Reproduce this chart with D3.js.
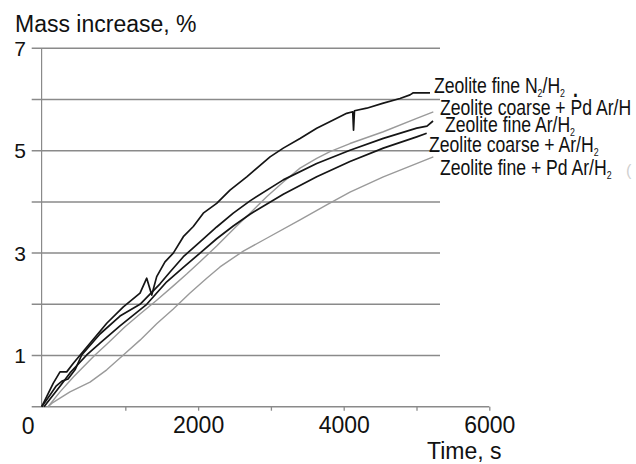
<!DOCTYPE html>
<html><head><meta charset="utf-8">
<script src="https://cdn.jsdelivr.net/npm/d3@7"></script>
<style>body{margin:0;background:#fff} svg{display:block;font-family:"Liberation Sans",Arial,sans-serif}</style>
</head><body><svg id="c" width="636" height="464"></svg>
<script>
// ---- data ----
const yGridValues = [1, 2, 3, 4, 5, 6, 7];
const yLabelValues = [1, 3, 5, 7];
const xTickValues = [1000, 2000, 3000, 4000, 5000, 6000];
const xLabelValues = [2000, 4000, 6000];
const xZeroLabel = "0";
const yTitle = "Mass increase, %";
const xTitle = "Time, s";

const seriesNames = ["Zeolite fine N_2/H_2", "Zeolite coarse + Pd Ar/H", "Zeolite fine Ar/H_2", "Zeolite coarse + Ar/H_2", "Zeolite fine + Pd Ar/H_2"];

const fineN2_t = [-148, 11, 103, 195, 286, 515, 745, 973, 1202, 1294, 1363, 1431, 1545, 1659, 1797, 1934, 2071, 2255, 2438, 2668, 2988, 3170, 3400, 3629, 3857, 4041, 4124, 4135, 4148, 4316, 4544, 4773, 4911, 4956, 5185];
const fineN2_m = [0, 0.46, 0.68, 0.68, 0.85, 1.24, 1.63, 1.95, 2.22, 2.51, 2.18, 2.54, 2.83, 3.00, 3.32, 3.52, 3.78, 3.97, 4.23, 4.49, 4.88, 5.05, 5.24, 5.44, 5.60, 5.73, 5.76, 5.40, 5.78, 5.83, 5.93, 6.02, 6.09, 6.13, 6.13];

const coarsePd_t = [-62, 103, 286, 584, 745, 996, 1202, 1431, 1659, 1843, 2026, 2255, 2530, 2713, 2942, 3170, 3400, 3629, 3812, 4086, 4544, 5003, 5231];
const coarsePd_m = [0, 0.29, 0.58, 1.01, 1.22, 1.56, 1.81, 2.08, 2.36, 2.59, 2.83, 3.14, 3.53, 3.78, 4.10, 4.39, 4.66, 4.85, 4.98, 5.14, 5.37, 5.63, 5.76];

const fineAr_t = [-148, -34, 48, 130, 213, 309, 401, 652, 927, 1202, 1477, 1614, 1797, 2026, 2255, 2483, 2713, 3170, 3629, 4086, 4544, 5003, 5144, 5227];
const fineAr_m = [0, 0.23, 0.40, 0.50, 0.54, 0.72, 1.01, 1.42, 1.77, 2.00, 2.40, 2.63, 2.93, 3.22, 3.51, 3.78, 4.02, 4.43, 4.75, 5.01, 5.24, 5.44, 5.48, 5.58];

const coarseAr_t = [-117, -34, 103, 240, 470, 652, 927, 1294, 1569, 1797, 2026, 2255, 2483, 2713, 3170, 3629, 4086, 4544, 5003, 5140];
const coarseAr_m = [0, 0.15, 0.40, 0.66, 1.01, 1.24, 1.58, 2.00, 2.44, 2.72, 3.00, 3.28, 3.53, 3.76, 4.15, 4.49, 4.79, 5.05, 5.27, 5.34];

const finePd_t = [-62, -7, 240, 515, 745, 973, 1202, 1431, 1659, 1889, 2118, 2301, 2621, 2942, 3400, 3766, 4086, 4544, 5231];
const finePd_m = [0, 0.07, 0.29, 0.48, 0.72, 1.01, 1.30, 1.62, 1.91, 2.22, 2.51, 2.73, 3.04, 3.29, 3.65, 3.94, 4.19, 4.49, 4.88];

// ---- layout ----
const svg = d3.select("#c");
const x = d3.scaleLinear().domain([-150, 6000]).range([41.6, 489.3]);
const y = d3.scaleLinear().domain([0, 7]).range([406.7, 48.3]);
const gridX0 = 31.7, gridX1 = 440;
const gridColor = "#8a8a8a";

// gridlines
svg.append("g").selectAll("line").data(yGridValues).join("line")
  .attr("x1", gridX0).attr("x2", gridX1)
  .attr("y1", d => y(d)).attr("y2", d => y(d))
  .attr("stroke", gridColor).attr("stroke-width", 1.5);

// y axis line
svg.append("line").attr("x1", x.range()[0]).attr("x2", x.range()[0])
  .attr("y1", y(7)).attr("y2", y(0)).attr("stroke", gridColor).attr("stroke-width", 1.2);

// y labels
svg.append("g").selectAll("text").data(yLabelValues).join("text")
  .attr("x", 26).attr("y", d => y(d)).attr("dy", "0.36em")
  .attr("text-anchor", "end").attr("font-size", 21).attr("fill", "#111")
  .text(d => d);

// x axis
svg.append("line").attr("x1", gridX0).attr("x2", x(6000))
  .attr("y1", y(0)).attr("y2", y(0)).attr("stroke", gridColor).attr("stroke-width", 1.5);
const xa = svg.append("g").attr("transform", `translate(0,${y(0)})`)
  .call(d3.axisBottom(x).tickValues(xTickValues).tickSize(4).tickSizeOuter(0).tickPadding(6)
    .tickFormat(d => xLabelValues.includes(d) ? d : ""));
xa.select(".domain").remove();
xa.selectAll(".tick line").attr("stroke", gridColor).attr("stroke-width", 1.3);
xa.selectAll(".tick text").attr("font-size", 23).attr("fill", "#111").attr("font-family", null);
svg.append("text").attr("x", x.range()[0] - 13.5).attr("y", y(0)).attr("dy", 27)
  .attr("text-anchor", "middle").attr("font-size", 23).attr("fill", "#111").text(xZeroLabel);

// titles
svg.append("text").attr("x", 15).attr("y", 32).attr("font-size", 23).attr("fill", "#111").text(yTitle);
svg.append("text").attr("x", 427).attr("y", 459).attr("font-size", 23).attr("fill", "#111").text(xTitle);

// series
const series = [
  {t: fineN2_t, m: fineN2_m, color: "#151515", w: 1.7},
  {t: coarsePd_t, m: coarsePd_m, color: "#9a9a9a", w: 1.4},
  {t: fineAr_t, m: fineAr_m, color: "#151515", w: 1.7},
  {t: coarseAr_t, m: coarseAr_m, color: "#151515", w: 1.7},
  {t: finePd_t, m: finePd_m, color: "#9a9a9a", w: 1.4}
];
const line = d3.line().x(d => x(d[0])).y(d => y(d[1]));
svg.append("g").selectAll("path").data(series).join("path")
  .attr("d", s => line(s.t.map((t, i) => [t, s.m[i]])))
  .attr("fill", "none").attr("stroke", s => s.color).attr("stroke-width", s => s.w)
  .attr("stroke-linejoin", "round");

// labels
const labelPos = [[434, 92.5], [440, 115], [445, 132], [429, 151.5], [440, 175]];
const labelScale = 0.8;
seriesNames.forEach((name, i) => {
  const t = svg.append("text")
    .attr("transform", `translate(${labelPos[i][0]},${labelPos[i][1]}) scale(${labelScale},1)`)
    .attr("font-size", 22).attr("fill", "#111");
  const parts = name.split("_");
  parts.forEach((p, j) => {
    if (j === 0) { t.append("tspan").text(p); return; }
    t.append("tspan").attr("font-size", 11).attr("dy", 4).text(p[0]);
    t.append("tspan").attr("dy", -4).text(p.length > 1 ? p.slice(1) : "");
  });
  if (i === 0) t.append("tspan").attr("dx", 10).attr("font-weight", "bold").text(".");
});
// faint stray mark at right edge of the reference
svg.append("text").attr("x", 626).attr("y", 176).attr("font-size", 16).attr("fill", "#d0d0d0").text("(");
</script></body></html>
